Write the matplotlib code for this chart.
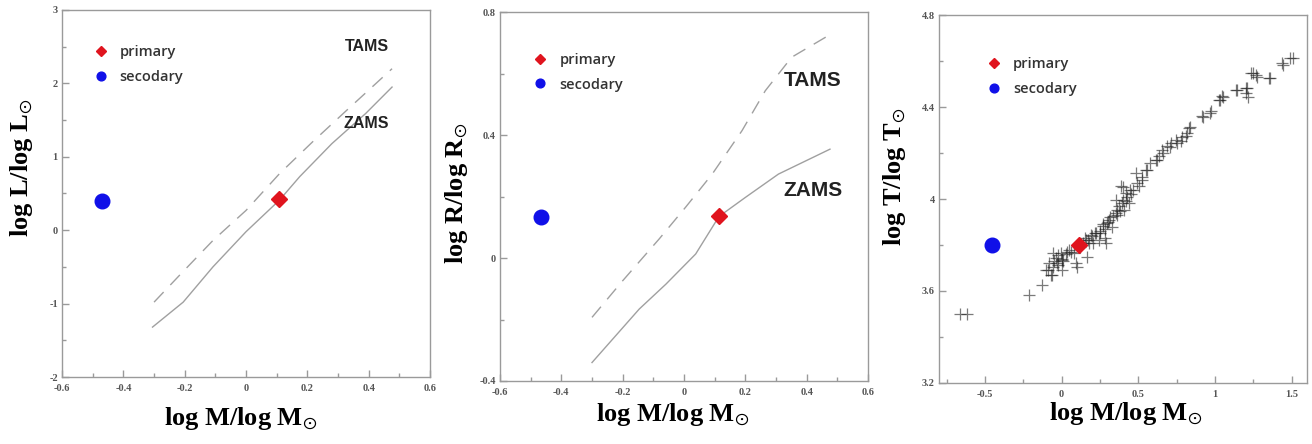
import matplotlib
matplotlib.use("Agg")
import matplotlib.pyplot as plt
from matplotlib.ticker import MultipleLocator, FormatStrFormatter

# ---------------- data ----------------
# panel 1: log L vs log M
zams_L_x = [-0.305, -0.205, -0.108, 0.0, 0.109, 0.175, 0.28, 0.39, 0.476]
zams_L_y = [-1.32, -0.98, -0.50, -0.02, 0.41, 0.73, 1.18, 1.59, 1.95]
tams_L_x = [-0.30, -0.216, -0.108, 0.0, 0.109, 0.216, 0.335, 0.476]
tams_L_y = [-0.98, -0.61, -0.14, 0.27, 0.77, 1.20, 1.66, 2.20]
primary_L = (0.109, 0.42)
secondary_L = (-0.47, 0.40)

# panel 2: log R vs log M
zams_R_x = [-0.30, -0.146, -0.059, 0.038, 0.114, 0.20, 0.308, 0.476]
zams_R_y = [-0.34, -0.166, -0.085, 0.013, 0.135, 0.197, 0.273, 0.354]
tams_R_x = [-0.30, -0.20, -0.081, 0.005, 0.092, 0.189, 0.265, 0.351, 0.47]
tams_R_y = [-0.193, -0.074, 0.062, 0.165, 0.273, 0.414, 0.544, 0.653, 0.723]
primary_R = (0.114, 0.135)
secondary_R = (-0.465, 0.132)

# panel 3: log T vs log M (catalogue stars)
stars_M = [-0.66, -0.62, -0.215, -0.128, -0.069, -0.08, -0.037, -0.026, -0.004,
           -0.059, 0.007, 0.050, 0.093, 0.082, 0.137, 0.158, 0.191, 0.223, 0.245,
           0.267, 0.289, 0.310, 0.332, 0.354, 0.375, 0.397, 0.419, 0.354, 0.386,
           0.408, 0.440, 0.462, 0.484, 0.527, 0.505, 0.549, 0.614, 0.636, 0.657,
           0.690, 0.711, 0.744, 0.777, 0.809, 0.831, 0.918, 0.972, 1.026, 1.048,
           1.134, 1.20, 1.232, 1.265, 1.351, 1.20, 1.438, 1.492,
           -0.05, 0.0, 0.03, 0.06, 0.12, 0.17, 0.20, 0.18, 0.25, 0.28, 0.30, 0.33,
           0.36, 0.38, 0.42, 0.45, -0.10, 0.0, 0.15, 0.22, 0.27,
           -0.065, -0.032, 0.0, -0.055, -0.087, -0.022, 0.033, 0.098, 0.163,
           0.206, 0.25, 0.283, 0.294, 0.315, 0.359, 0.392, 0.424, 0.402, 0.446,
           0.489, 0.522, 0.555, 0.576, 0.620, 0.663, 0.707, 0.750, 0.783, 0.815,
           0.837, 0.924, 0.967, 1.033, 1.054, 1.141, 1.207, 1.217, 1.250, 1.272,
           1.359, 1.446, 1.511]
stars_T = [3.50, 3.50, 3.584, 3.628, 3.671, 3.72, 3.743, 3.714, 3.765,
           3.765, 3.729, 3.780, 3.722, 3.765, 3.809, 3.823, 3.845, 3.852, 3.823,
           3.881, 3.809, 3.910, 3.925, 3.939, 3.968, 3.997, 4.026, 3.997, 4.055,
           3.954, 3.983, 4.041, 4.113, 4.084, 4.055, 4.128, 4.171, 4.186, 4.214,
           4.229, 4.243, 4.258, 4.251, 4.272, 4.309, 4.359, 4.381, 4.432, 4.446,
           4.475, 4.483, 4.548, 4.541, 4.526, 4.461, 4.591, 4.613,
           3.73, 3.74, 3.76, 3.77, 3.79, 3.82, 3.84, 3.81, 3.86, 3.87, 3.90, 3.88,
           3.93, 3.95, 3.99, 4.02, 3.69, 3.69, 3.83, 3.85, 3.89,
           3.670, 3.720, 3.735, 3.706, 3.691, 3.757, 3.771, 3.706, 3.749,
           3.807, 3.851, 3.829, 3.894, 3.923, 3.952, 3.981, 4.010, 4.053, 4.039,
           4.068, 4.097, 4.126, 4.155, 4.170, 4.199, 4.227, 4.242, 4.271, 4.285,
           4.314, 4.358, 4.372, 4.430, 4.445, 4.474, 4.481, 4.445, 4.546, 4.532,
           4.525, 4.583, 4.611]
primary_T = (0.115, 3.80)
secondary_T = (-0.457, 3.80)

# ---------------- style ----------------
plt.rcParams['axes.unicode_minus'] = False
plt.rcParams['mathtext.fontset'] = 'stix'
label_font = dict(family='Liberation Serif', weight='bold', size=19)
tick_font = dict(family='Liberation Serif', weight='bold', size=7.5)
curve_col = '#a0a0a0'
spine_col = '#9a9a9a'
dash = (0, (10, 7))

fig = plt.figure(figsize=(13.12, 4.44), dpi=100)
ax1 = fig.add_axes([0.0473, 0.1509, 0.2805, 0.8266])
ax2 = fig.add_axes([0.3811, 0.1419, 0.2805, 0.8310])
ax3 = fig.add_axes([0.7157, 0.1374, 0.2805, 0.8288])


def style(ax, xlim, ylim, xmaj, xmin, ymaj, ymin, xlab, ylab, xlc, ylc):
    ax.set_xlim(*xlim)
    ax.set_ylim(*ylim)
    ax.xaxis.set_major_locator(MultipleLocator(xmaj))
    ax.xaxis.set_minor_locator(MultipleLocator(xmin))
    ax.yaxis.set_major_locator(MultipleLocator(ymaj))
    ax.yaxis.set_minor_locator(MultipleLocator(ymin))
    ax.xaxis.set_major_formatter(FormatStrFormatter('%g'))
    ax.yaxis.set_major_formatter(FormatStrFormatter('%g'))
    for s in ax.spines.values():
        s.set_color(spine_col)
        s.set_linewidth(1.0)
    ax.tick_params(which='both', direction='in', colors=spine_col,
                   labelcolor='#555555', top=False, right=False)
    ax.tick_params(which='major', length=5, width=1)
    ax.tick_params(which='minor', length=3, width=1)
    ax.tick_params(axis='x', pad=5)
    ax.tick_params(axis='y', pad=3)
    for lab in ax.get_xticklabels() + ax.get_yticklabels():
        lab.set_fontfamily(tick_font['family'])
        lab.set_fontweight(tick_font['weight'])
        lab.set_fontsize(tick_font['size'])
    ax.set_xlabel(xlab, **label_font)
    ax.set_ylabel(ylab, **label_font)
    ax.xaxis.label.set_va('center')
    ax.yaxis.label.set_va('center')
    ax.xaxis.set_label_coords(*xlc)
    ax.yaxis.set_label_coords(*ylc)


def add_points(ax, prim, sec):
    ax.plot([prim[0]], [prim[1]], linestyle='none', marker='D', ms=8,
            color='#e0141e', label='primary', zorder=5)
    ax.plot([sec[0]], [sec[1]], linestyle='none', marker='o', ms=10.5,
            color='#1010e8', label='secodary', zorder=5)


def add_legend(ax, anchor):
    leg = ax.legend(loc='upper left', bbox_to_anchor=anchor, frameon=False,
                    markerscale=0.6, handlelength=1.0, handletextpad=0.8,
                    borderpad=0, borderaxespad=0, labelspacing=0.75,
                    prop=dict(family='Open Sans', size=10.5, weight='semibold'))
    for t in leg.get_texts():
        t.set_color('#333333')


xlab = r'log M/log M$_{\odot}$'

# panel 1
ax1.plot(zams_L_x, zams_L_y, color=curve_col, lw=1.0)
ax1.plot(tams_L_x, tams_L_y, color=curve_col, lw=1.0, linestyle=dash)
add_points(ax1, primary_L, secondary_L)
ax1.text(0.393, 2.5, 'TAMS', family='Liberation Sans', weight='bold',
         size=11.5, color='#222222', ha='center', va='center')
ax1.text(0.393, 1.45, 'ZAMS', family='Liberation Sans', weight='bold',
         size=11.5, color='#222222', ha='center', va='center')
style(ax1, (-0.6, 0.6), (-2, 3), 0.2, 0.1, 1, 0.5, xlab,
      r'log L/log L$_{\odot}$', (0.486, -0.112), (-0.109, 0.57))
add_legend(ax1, (0.085, 0.905))

# panel 2
ax2.plot(zams_R_x, zams_R_y, color=curve_col, lw=1.0)
ax2.plot(tams_R_x, tams_R_y, color=curve_col, lw=1.0, linestyle=dash)
add_points(ax2, primary_R, secondary_R)
ax2.text(0.42, 0.577, 'TAMS', family='Liberation Sans', weight='bold',
         size=15, color='#222222', ha='center', va='center')
ax2.text(0.42, 0.22, 'ZAMS', family='Liberation Sans', weight='bold',
         size=15, color='#222222', ha='center', va='center')
style(ax2, (-0.6, 0.6), (-0.4, 0.8), 0.2, 0.1, 0.4, 0.2, xlab,
      r'log R/log R$_{\odot}$', (0.47, -0.092), (-0.117, 0.51))
add_legend(ax2, (0.09, 0.89))

# panel 3
ax3.plot(stars_M, stars_T, linestyle='none', marker='+', ms=8.5, mew=0.9,
         color='#222222', alpha=0.6, zorder=3)
add_points(ax3, primary_T, secondary_T)
style(ax3, (-0.8, 1.6), (3.2, 4.8), 0.5, 0.25, 0.4, 0.2, xlab,
      r'log T/log T$_{\odot}$', (0.508, -0.082), (-0.12, 0.56))
add_legend(ax3, (0.13, 0.885))

fig.savefig('out.png', dpi=100)
